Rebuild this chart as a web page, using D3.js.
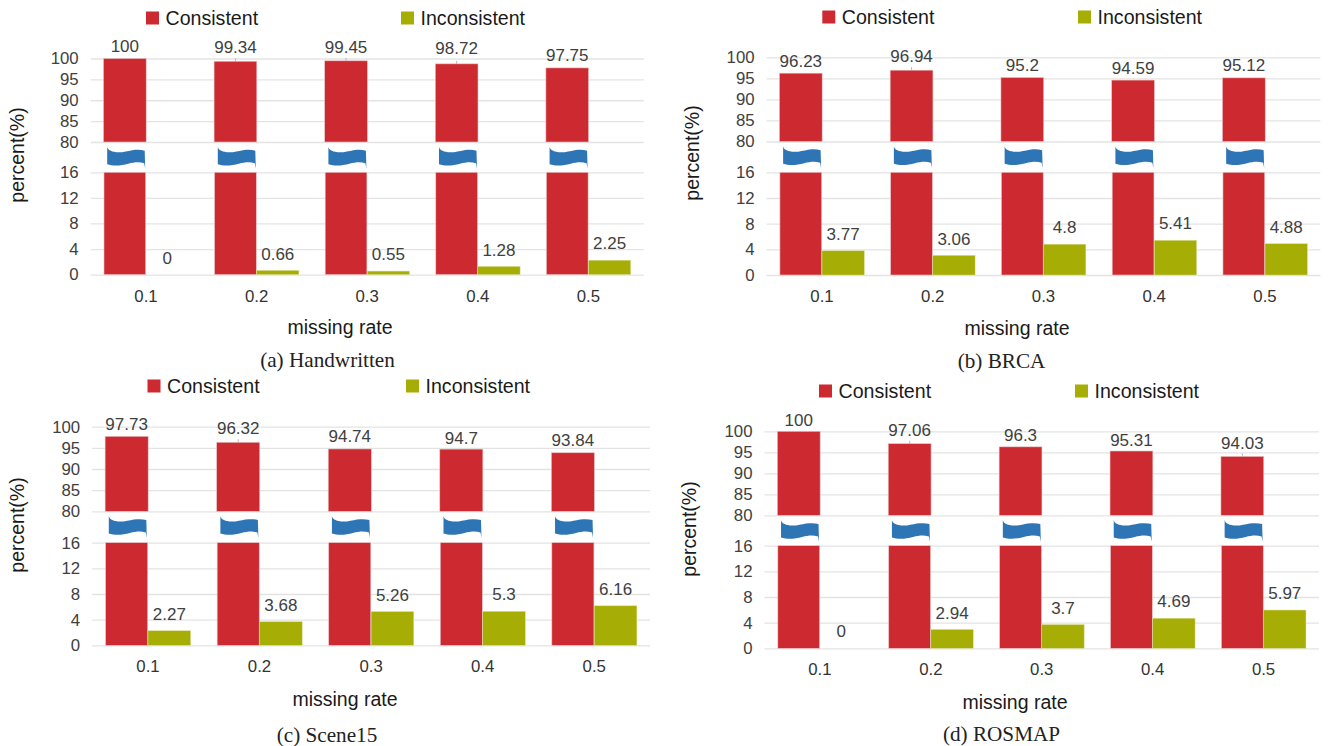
<!DOCTYPE html>
<html>
<head>
<meta charset="utf-8">
<style>
  html, body { margin: 0; padding: 0; background: #fff; }
  svg { display: block; }
  text { font-family: "Liberation Sans", Arial, sans-serif; }
  .grid line { stroke: #e3e3e3; stroke-width: 1.3; }
  .grid path { display: none; }
  .grid text { font-size: 16.8px; fill: #404040; }
  .cats path { display: none; }
  .cats text { font-size: 16.8px; fill: #333; }
  .val { font-size: 17px; fill: #404040; text-anchor: middle; }
  .leg { font-size: 19.6px; fill: #1a1a1a; }
  .lab { font-size: 19.5px; fill: #1a1a1a; text-anchor: middle; }
  .cap { font-family: "Liberation Serif", serif; font-size: 21.2px; fill: #222; text-anchor: middle; }
</style>
</head>
<body>
<div id="chart-area"></div>
<script src="https://cdn.jsdelivr.net/npm/d3@7/dist/d3.min.js"></script>
<script>
// DATA
var rates = ["0.1", "0.2", "0.3", "0.4", "0.5"];
var seriesNames = ["Consistent", "Inconsistent"];
var upperTicks = [80, 85, 90, 95, 100];
var lowerTicks = [0, 4, 8, 12, 16];

var consistentA = [100, 99.34, 99.45, 98.72, 97.75];
var inconsistentA = [0, 0.66, 0.55, 1.28, 2.25];
var consistentB = [96.23, 96.94, 95.2, 94.59, 95.12];
var inconsistentB = [3.77, 3.06, 4.8, 5.41, 4.88];
var consistentC = [97.73, 96.32, 94.74, 94.7, 93.84];
var inconsistentC = [2.27, 3.68, 5.26, 5.3, 6.16];
var consistentD = [100, 97.06, 96.3, 95.31, 94.03];
var inconsistentD = [0, 2.94, 3.7, 4.69, 5.97];

// gap between bar top and its label, differs a bit per bar in the original
var gapsA = [12, 14.3, 13.3, 15.3, 12.8];
var gapsB = [12.2, 13.7, 12.5, 12, 12.8];
var gapsC = [12.3, 13.8, 13, 11.1, 12.8];
var gapsD = [11.3, 14, 11.8, 11, 13.4];

var width = 1334, height = 746;
var red = "#cc2a30", green = "#a6ad05", blue = "#2e75b6";

var panels = [
    {cons: consistentA, inc: inconsistentA, gaps: gapsA, x0: 90.7, x1: 643.7,
     y100: 58.5, y80: 142, y16: 172.3, y0: 274.6,
     legY: 18, legX: [146, 401], ylab: [17, 155], xlab: [340, 327], cap: "(a) Handwritten", capPos: [327.5, 360]},
    {cons: consistentB, inc: inconsistentB, gaps: gapsB, x0: 766.6, x1: 1320.4,
     y100: 57.3, y80: 141.5, y16: 172.3, y0: 275,
     legY: 17, legX: [822.3, 1078], ylab: [692.5, 153], xlab: [1017, 328], cap: "(b) BRCA", capPos: [1001.5, 361]},
    {cons: consistentC, inc: inconsistentC, gaps: gapsC, x0: 92.2, x1: 650,
     y100: 426.7, y80: 511.3, y16: 542.7, y0: 645.3,
     legY: 386, legX: [147.5, 406], ylab: [17, 525], xlab: [345, 699], cap: "(c) Scene15", capPos: [327, 735]},
    {cons: consistentD, inc: inconsistentD, gaps: gapsD, x0: 764.5, x1: 1319,
     y100: 431.3, y80: 515.3, y16: 545.7, y0: 648.3,
     legY: 391, legX: [819, 1075], ylab: [689, 529], xlab: [1015, 702], cap: "(d) ROSMAP", capPos: [1001.5, 734]}
];

var svg = d3.select("#chart-area").append("svg")
    .attr("width", width)
    .attr("height", height);

// the wavy "axis break" mark, local coordinates
var breakPath = "M0,0 C0.5,3 3,4.5 9,5.5 C15,6 20,4.5 25,3.5 C30,3 34,3 37.5,4 L38,22 L37,16.5 C32,15 27,15.5 21,17 C14,19 6,19.5 0,17.5 Z";

panels.forEach(function(p) {
    var g = svg.append("g");

    var x = d3.scaleBand()
        .domain(rates)
        .range([p.x0, p.x1])
        .paddingInner(0.235)
        .paddingOuter(0.1175);

    var x1 = d3.scaleBand()
        .domain(seriesNames)
        .range([0, x.bandwidth()]);

    var yUp = d3.scaleLinear().domain([80, 100]).range([p.y80, p.y100]);
    var yLow = d3.scaleLinear().domain([0, 16]).range([p.y0, p.y16]);

    // gridlines + tick labels
    [[yUp, upperTicks], [yLow, lowerTicks]].forEach(function(a) {
        g.append("g")
            .attr("class", "grid")
            .attr("transform", "translate(" + p.x0 + ",0)")
            .call(d3.axisLeft(a[0])
                .tickValues(a[1])
                .tickSize(-(p.x1 - p.x0))
                .tickPadding(12));
    });

    g.append("g")
        .attr("class", "cats")
        .attr("transform", "translate(0," + p.y0 + ")")
        .call(d3.axisBottom(x).tickSize(0).tickPadding(15));

    rates.forEach(function(r, i) {
        var bx = x(r);
        var cx = bx + x1(seriesNames[0]) + x1.bandwidth() / 2;
        var gx = bx + x1(seriesNames[1]);
        var v = p.cons[i], w = p.inc[i];

        // red bar, upper part
        g.append("rect")
            .attr("x", bx - 0.2)
            .attr("y", yUp(v))
            .attr("width", x1.bandwidth() + 0.4)
            .attr("height", yUp(80) - yUp(v))
            .attr("fill", red)
            .attr("stroke", "#e9c4c5").attr("stroke-width", 0.6);

        // red bar, lower part
        g.append("rect")
            .attr("x", bx + 0.3)
            .attr("y", yLow(16))
            .attr("width", x1.bandwidth() - 0.6)
            .attr("height", yLow(0) - yLow(16))
            .attr("fill", red)
            .attr("stroke", "#e9c4c5").attr("stroke-width", 0.6);

        // green bar
        if (w > 0) {
            g.append("rect")
                .attr("x", gx)
                .attr("y", yLow(w))
                .attr("width", x1.bandwidth())
                .attr("height", yLow(0) - yLow(w))
                .attr("fill", green)
                .attr("stroke", "#dcdf9c").attr("stroke-width", 0.5);
        }

        // leader line of the bigger-gap labels
        if (p.gaps[i] > 13) {
            g.append("line")
                .attr("x1", cx).attr("x2", cx)
                .attr("y1", yUp(v)).attr("y2", yUp(v) - 3)
                .attr("stroke", "#aaa").attr("stroke-width", 0.8);
        }

        g.append("path")
            .attr("d", breakPath)
            .attr("transform", "translate(" + (bx + 3.5) + "," + (p.y80 + 4.7) + ")")
            .attr("fill", blue);

        g.append("text")
            .attr("class", "val")
            .attr("x", cx)
            .attr("y", yUp(v) - p.gaps[i])
            .attr("dy", "0.35em")
            .text(v);

        g.append("text")
            .attr("class", "val")
            .attr("x", gx + x1.bandwidth() / 2)
            .attr("y", yLow(w) - 16.8)
            .attr("dy", "0.35em")
            .text(w);
    });

    // LEGEND
    seriesNames.forEach(function(name, i) {
        g.append("rect")
            .attr("x", p.legX[i])
            .attr("y", p.legY - 6.5)
            .attr("width", 13)
            .attr("height", 13)
            .attr("fill", i === 0 ? red : green);
        g.append("text")
            .attr("class", "leg")
            .attr("x", p.legX[i] + 19.5)
            .attr("y", p.legY)
            .attr("dy", "0.35em")
            .text(name);
    });

    g.append("text")
        .attr("class", "lab")
        .attr("transform", "translate(" + p.ylab[0] + "," + p.ylab[1] + ") rotate(-90)")
        .attr("dy", "0.35em")
        .text("percent(%)");

    g.append("text")
        .attr("class", "lab")
        .attr("x", p.xlab[0])
        .attr("y", p.xlab[1])
        .attr("dy", "0.35em")
        .text("missing rate");

    g.append("text")
        .attr("class", "cap")
        .attr("x", p.capPos[0])
        .attr("y", p.capPos[1])
        .attr("dy", "0.33em")
        .text(p.cap);
});
</script>
</body>
</html>
